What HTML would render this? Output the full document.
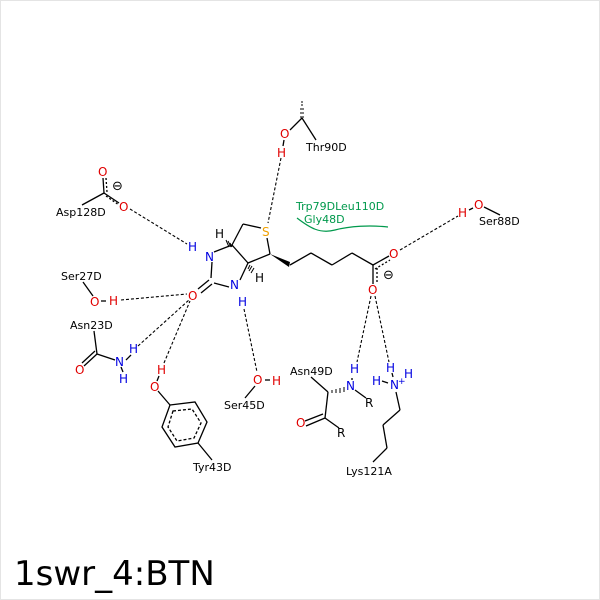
<!DOCTYPE html>
<html><head><style>
html,body{margin:0;padding:0;background:#fff}
svg{display:block}
text{font-family:"DejaVu Sans","Liberation Sans",sans-serif;font-size:11px}
.r{fill:#e00000;font-size:12px}.b{fill:#0000e0;font-size:12px}.g{fill:#00994c}
</style></head><body>
<svg width="600" height="600" viewBox="0 0 600 600" xmlns="http://www.w3.org/2000/svg">
<rect x="0.5" y="0.5" width="599" height="599" fill="#fff" stroke="#e4e4e4"/>
<g stroke="#000" stroke-width="1.3" fill="none">
<line x1="290" y1="130" x2="302" y2="118"/>
<line x1="302" y1="118" x2="316" y2="140"/>
<line x1="284" y1="140" x2="283" y2="146"/>
<line x1="212" y1="262" x2="211" y2="278"/>
<line x1="214" y1="283" x2="229" y2="287"/>
<line x1="214" y1="252" x2="232" y2="245"/>
<line x1="232" y1="245" x2="248" y2="263"/>
<line x1="240" y1="280" x2="248" y2="263"/>
<line x1="232" y1="245" x2="243" y2="224"/>
<line x1="243" y1="224" x2="261" y2="228"/>
<line x1="267" y1="238" x2="270" y2="254"/>
<line x1="270" y1="254" x2="248" y2="263"/>
<line x1="209" y1="280" x2="198" y2="289"/>
<line x1="212" y1="284" x2="201" y2="293"/>
<line x1="290" y1="265" x2="311" y2="253"/>
<line x1="311" y1="253" x2="332" y2="265"/>
<line x1="332" y1="265" x2="352" y2="253"/>
<line x1="352" y1="253" x2="373" y2="265"/>
<line x1="373" y1="265" x2="389" y2="256"/>
<line x1="375" y1="269" x2="390" y2="260" stroke-dasharray="2,2"/>
<line x1="373" y1="265" x2="373" y2="284"/>
<line x1="377" y1="268" x2="377" y2="283" stroke-dasharray="2,2"/>
<line x1="103" y1="178" x2="104" y2="193"/>
<line x1="106" y1="178" x2="107" y2="192" stroke-dasharray="2,2"/>
<line x1="104" y1="193" x2="119" y2="203"/>
<line x1="106" y1="196" x2="119" y2="205" stroke-dasharray="2,2"/>
<line x1="104" y1="193" x2="82" y2="205"/>
<line x1="93" y1="296" x2="83" y2="282"/>
<line x1="101" y1="301" x2="106" y2="301"/>
<line x1="94" y1="331" x2="97" y2="354"/>
<line x1="97" y1="354" x2="115" y2="360"/>
<line x1="97" y1="354" x2="84" y2="366"/>
<line x1="95" y1="351" x2="82" y2="363"/>
<line x1="121" y1="367" x2="123" y2="372"/>
<line x1="126" y1="360" x2="131" y2="355"/>
<line x1="158" y1="391" x2="170" y2="405"/>
<line x1="157" y1="381" x2="159" y2="376"/>
<polygon points="170,405 195,402 207,422 198,443 175,447 162,427"/>
<polygon points="173,411 192,409 201,423 194,438 177,441 168,427" stroke-dasharray="3,2"/>
<line x1="198" y1="443" x2="212" y2="460"/>
<line x1="255" y1="386" x2="245" y2="398"/>
<line x1="265" y1="380" x2="270" y2="380"/>
<line x1="484" y1="207" x2="500" y2="215"/>
<line x1="469" y1="210" x2="473" y2="208"/>
<line x1="311" y1="377" x2="328" y2="392"/>
<line x1="328" y1="392" x2="325" y2="418"/>
<line x1="325" y1="418" x2="306" y2="426"/>
<line x1="323" y1="414" x2="305" y2="421"/>
<line x1="325" y1="418" x2="339" y2="428"/>
<line x1="355" y1="390" x2="366" y2="398"/>
<line x1="352" y1="378" x2="352" y2="380"/>
<line x1="396" y1="392" x2="400" y2="410"/>
<line x1="400" y1="410" x2="383" y2="425"/>
<line x1="383" y1="425" x2="387" y2="448"/>
<line x1="387" y1="448" x2="373" y2="462"/>
<line x1="382" y1="381" x2="388" y2="383"/>
<line x1="392" y1="373" x2="393" y2="377"/>
</g>
<polygon points="270,254 290,262 289,267" fill="#000"/>
<g stroke="#000" stroke-width="1">
<line x1="300" y1="117" x2="304" y2="117"/><line x1="300" y1="113" x2="304" y2="113"/><line x1="300" y1="109" x2="304" y2="109"/><line x1="301" y1="105" x2="303" y2="105"/><line x1="301" y1="102" x2="303" y2="102"/>
<line x1="230" y1="243" x2="232" y2="247"/><line x1="228" y1="241" x2="231" y2="247"/><line x1="226" y1="240" x2="229" y2="247"/>
<line x1="250" y1="265" x2="248" y2="269"/><line x1="252" y1="266" x2="249" y2="271"/><line x1="254" y1="268" x2="251" y2="273"/>
<line x1="332" y1="390" x2="332" y2="393"/><line x1="336" y1="389" x2="336" y2="393"/><line x1="340" y1="388" x2="340" y2="393"/><line x1="344" y1="387" x2="344" y2="392"/>
</g>
<g stroke="#000" stroke-width="1.1" stroke-dasharray="3,2" fill="none">
<line x1="281" y1="158" x2="268" y2="223"/>
<line x1="130" y1="209" x2="187" y2="244"/>
<line x1="121" y1="300" x2="187" y2="294"/>
<line x1="138" y1="346" x2="189" y2="300"/>
<line x1="164" y1="363" x2="190" y2="301"/>
<line x1="244" y1="309" x2="257" y2="372"/>
<line x1="400" y1="250" x2="458" y2="216"/>
<line x1="371" y1="296" x2="357" y2="362"/>
<line x1="375" y1="296" x2="389" y2="362"/>
</g>
<path d="M297,218 C310,228 320,234 335,230 C350,226 370,225 388,227" stroke="#00994c" stroke-width="1.2" fill="none"/>
<text x="280" y="138" class="r">O</text>
<text x="277" y="157" class="r">H</text>
<text x="306" y="151">Thr90D</text>
<text x="262" y="236" style="fill:#f0a000;font-size:12px">S</text>
<text x="205" y="261" class="b">N</text>
<text x="188" y="251" class="b">H</text>
<text x="215" y="238" style="font-size:12px">H</text>
<text x="230" y="289" class="b">N</text>
<text x="238" y="306" class="b">H</text>
<text x="255" y="282" style="font-size:12px">H</text>
<text x="188" y="300" class="r">O</text>
<text x="389" y="258" class="r">O</text>
<text x="368" y="294" class="r">O</text>
<text x="383" y="279" style="font-size:13px">⊖</text>
<text x="98" y="176" class="r">O</text>
<text x="119" y="211" class="r">O</text>
<text x="112" y="190" style="font-size:13px">⊖</text>
<text x="56" y="216">Asp128D</text>
<text x="61" y="280">Ser27D</text>
<text x="90" y="306" class="r">O</text>
<text x="109" y="305" class="r">H</text>
<text x="70" y="329">Asn23D</text>
<text x="75" y="374" class="r">O</text>
<text x="115" y="366" class="b">N</text>
<text x="129" y="353" class="b">H</text>
<text x="119" y="383" class="b">H</text>
<text x="157" y="374" class="r">H</text>
<text x="150" y="391" class="r">O</text>
<text x="193" y="471">Tyr43D</text>
<text x="253" y="384" class="r">O</text>
<text x="272" y="385" class="r">H</text>
<text x="224" y="409">Ser45D</text>
<text x="296" y="210" class="g">Trp79DLeu110D</text>
<text x="304" y="223" class="g">Gly48D</text>
<text x="474" y="209" class="r">O</text>
<text x="458" y="217" class="r">H</text>
<text x="479" y="225">Ser88D</text>
<text x="290" y="375">Asn49D</text>
<text x="346" y="390" class="b">N</text>
<text x="350" y="373" class="b">H</text>
<text x="365" y="407" style="font-size:12px">R</text>
<text x="296" y="427" class="r">O</text>
<text x="337" y="437" style="font-size:12px">R</text>
<text x="386" y="372" class="b">H</text>
<text x="372" y="385" class="b">H</text>
<text x="390" y="389" class="b">N</text>
<text x="398" y="384" class="b" style="font-size:9px">+</text>
<text x="404" y="378" class="b">H</text>
<text x="346" y="475">Lys121A</text>
<text x="14" y="585" style="font-size:34px;font-family:'DejaVu Sans','Liberation Sans',sans-serif">1swr_4:BTN</text>
</svg>
</body></html>
